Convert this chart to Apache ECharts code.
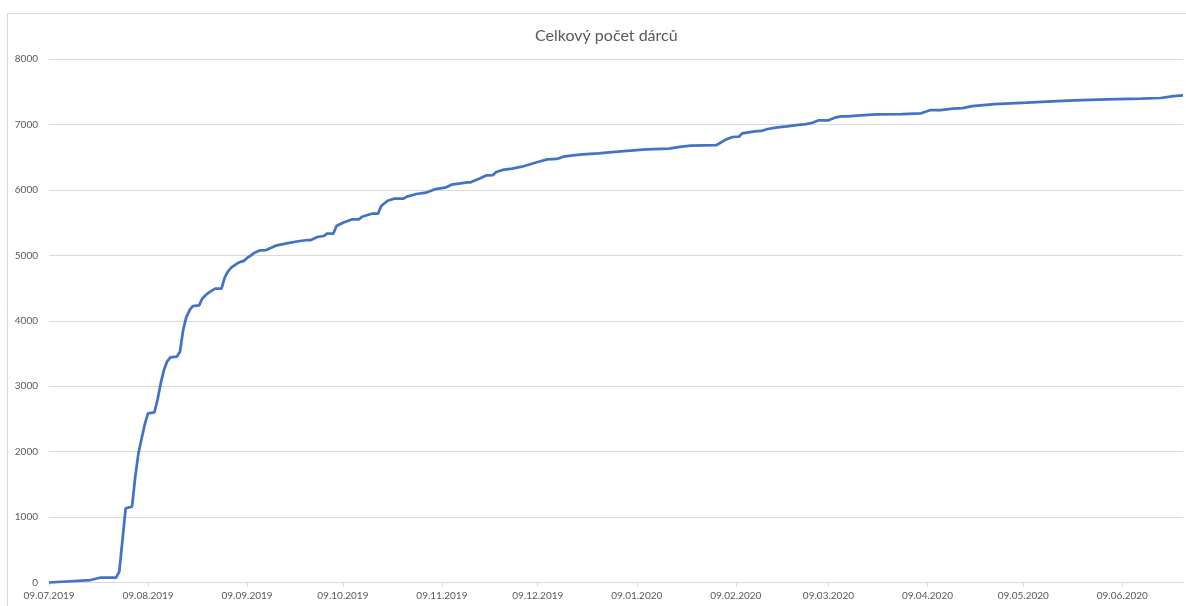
<!DOCTYPE html>
<html>
<head>
<meta charset="utf-8">
<script src="https://cdn.jsdelivr.net/npm/echarts@6/dist/echarts.min.js"></script>
<style>
html,body{margin:0;padding:0;background:#fff;}
#chart{width:1186px;height:606px;}
</style>
</head>
<body>
<div id="chart"></div>
<script>
const titleText = 'Celkový počet dárců';

const dates = [
 '2019-07-09','2019-07-22','2019-07-25','2019-07-30','2019-07-31','2019-08-02','2019-08-04','2019-08-05',
 '2019-08-06','2019-08-07','2019-08-08','2019-08-09','2019-08-11','2019-08-12','2019-08-13','2019-08-14',
 '2019-08-15','2019-08-16','2019-08-18','2019-08-19','2019-08-20','2019-08-21','2019-08-22','2019-08-23',
 '2019-08-25','2019-08-26','2019-08-27','2019-08-28','2019-08-30','2019-09-01','2019-09-02','2019-09-03',
 '2019-09-04','2019-09-06','2019-09-07','2019-09-08','2019-09-09','2019-09-10','2019-09-11','2019-09-12',
 '2019-09-13','2019-09-15','2019-09-16','2019-09-18','2019-09-21','2019-09-25','2019-09-28','2019-09-29',
 '2019-10-01','2019-10-03','2019-10-04','2019-10-06','2019-10-07','2019-10-09','2019-10-12','2019-10-14',
 '2019-10-15','2019-10-18','2019-10-20','2019-10-21','2019-10-23','2019-10-25','2019-10-28','2019-10-29',
 '2019-11-01','2019-11-04','2019-11-07','2019-11-10','2019-11-12','2019-11-17','2019-11-18','2019-11-21',
 '2019-11-23','2019-11-25','2019-11-26','2019-11-28','2019-12-01','2019-12-04','2019-12-09','2019-12-12',
 '2019-12-15','2019-12-17','2019-12-20','2019-12-23','2019-12-28','2020-01-03','2020-01-08','2020-01-12',
 '2020-01-19','2020-01-23','2020-01-26','2020-02-03','2020-02-06','2020-02-08','2020-02-10','2020-02-11',
 '2020-02-15','2020-02-17','2020-02-19','2020-02-22','2020-02-25','2020-02-28','2020-03-02','2020-03-04',
 '2020-03-06','2020-03-09','2020-03-11','2020-03-13','2020-03-15','2020-03-19','2020-03-24','2020-04-01',
 '2020-04-07','2020-04-10','2020-04-13','2020-04-17','2020-04-20','2020-04-23','2020-04-30','2020-05-10',
 '2020-05-18','2020-05-25','2020-06-04','2020-06-15','2020-06-21','2020-06-25','2020-06-28'
];

const donors = [
 0,38,73,73,165,1134,1160,1617,
 1974,2200,2420,2585,2600,2800,3050,3250,
 3380,3441,3451,3527,3859,4060,4160,4225,
 4236,4340,4390,4429,4490,4490,4660,4750,
 4810,4878,4900,4915,4960,4990,5030,5055,
 5075,5081,5105,5147,5180,5215,5234,5234,
 5280,5295,5330,5330,5448,5498,5550,5550,
 5590,5636,5636,5753,5834,5865,5865,5896,
 5937,5957,6013,6033,6079,6115,6115,6177,
 6222,6227,6273,6304,6324,6354,6426,6467,
 6472,6507,6528,6543,6559,6583,6604,6620,
 6629,6660,6675,6685,6772,6808,6813,6864,
 6895,6900,6930,6956,6971,6991,7006,7026,
 7063,7063,7103,7124,7124,7139,7155,7159,
 7170,7220,7220,7240,7250,7281,7312,7332,
 7353,7368,7384,7393,7404,7434,7445
];

// x-axis tick labels: the 9th of each month
const tickDates = [
 '2019-07-09','2019-08-09','2019-09-09','2019-10-09','2019-11-09','2019-12-09',
 '2020-01-09','2020-02-09','2020-03-09','2020-04-09','2020-05-09','2020-06-09'
];
const yMax = 8000, yStep = 1000;

function toTs(s){ const p = s.split('-').map(Number); return Date.UTC(p[0], p[1]-1, p[2]); }
function fmt(ts){ const d = new Date(ts); const p = n => (n<10?'0':'')+n; return p(d.getUTCDate())+'.'+p(d.getUTCMonth()+1)+'.'+d.getUTCFullYear(); }

const tickTs = tickDates.map(toTs);
const seriesData = dates.map((d,i) => [toTs(d), donors[i]]);

const FONT = 'Lato, "Open Sans", sans-serif';
const chart = echarts.init(document.getElementById('chart'), null, {renderer:'canvas'});
chart.setOption({
  animation: false,
  backgroundColor: '#ffffff',
  title: {
    text: titleText, left: 530, top: 23,
    textStyle: {color:'#595959', fontSize:16, fontWeight:'normal', fontFamily: FONT}
  },
  graphic: [{
    type:'rect', shape:{x:7.5, y:13.5, width:1200, height:620}, silent:true, z:-10,
    style:{fill:'none', stroke:'#d9d9d9', lineWidth:1}
  }],
  grid: {left:49, right:3, top:59, bottom:23.5, containLabel:false},
  xAxis: {
    type:'value',
    min: toTs(dates[0]),
    max: toTs(dates[dates.length-1]),
    axisLine: {show:true, onZero:false, lineStyle:{color:'#d9d9d9', width:1}},
    axisTick: {show:true, customValues: tickTs, length:4, lineStyle:{color:'#d9d9d9'}},
    axisLabel: {
      customValues: tickTs, formatter: v => fmt(v), margin:8,
      color:'#595959', fontSize:10, fontFamily: FONT, hideOverlap:false,
      showMinLabel:true, showMaxLabel:true
    },
    splitLine: {show:false}
  },
  yAxis: {
    type:'value', min:0, max:yMax, interval:yStep,
    axisLine:{show:false}, axisTick:{show:false},
    axisLabel:{color:'#595959', fontSize:10, fontFamily: FONT, margin:11, formatter: v => String(v)},
    splitLine:{lineStyle:{color:'#d9d9d9', width:1}}
  },
  series: [{
    type:'line', data: seriesData, showSymbol:false, smooth:false,
    lineStyle:{color:'#4472C4', width:2.75}, itemStyle:{color:'#4472C4'}
  }]
});
</script>
</body>
</html>
